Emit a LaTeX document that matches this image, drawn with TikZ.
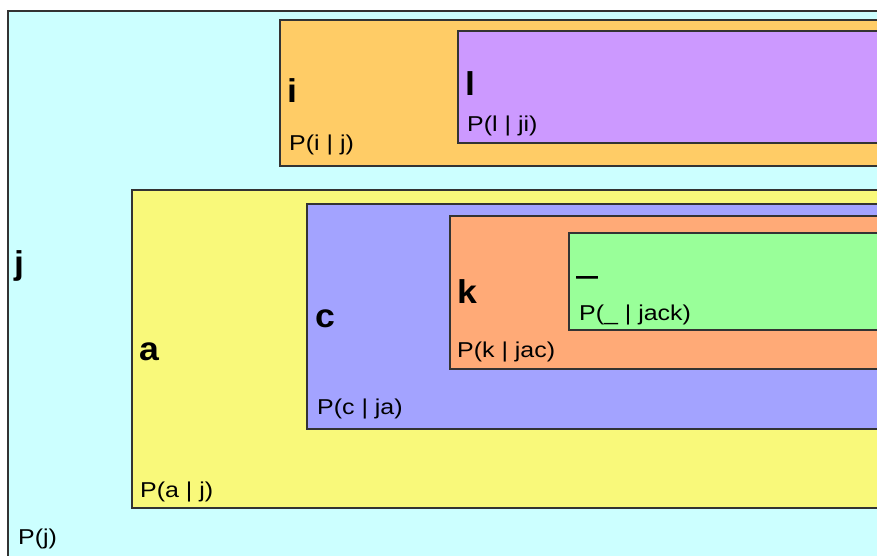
\documentclass[tikz,border=0pt]{standalone}
\usepackage{fontspec}
\setmainfont{Liberation Sans}
\newfontfamily\labelfont[FakeStretch=1.16]{Liberation Sans}
\newfontfamily\headfont[FakeStretch=1.08]{Liberation Sans Bold}
\newfontfamily\heavyfont[FakeStretch=1.08,FakeBold=4]{Liberation Sans Bold}
\definecolor{cyanbg}{HTML}{CCFFFF}
\definecolor{orangebg}{HTML}{FFCC66}
\definecolor{purplebg}{HTML}{CC99FF}
\definecolor{yellowbg}{HTML}{F9F97A}
\definecolor{bluebg}{HTML}{A3A3FF}
\definecolor{salmonbg}{HTML}{FFAA77}
\definecolor{greenbg}{HTML}{99FF99}
\definecolor{edge}{HTML}{333333}
\tikzset{
  box/.style={draw=edge, line width=1.4pt},
  head/.style={anchor=base west, inner sep=0pt, font=\headfont\fontsize{33}{37}\selectfont},
  prob/.style={anchor=base west, inner sep=0pt, font=\labelfont\fontsize{21.5}{25}\selectfont},
}
\begin{document}
\begin{tikzpicture}[x=1pt, y=-1pt]
  \useasboundingbox (0,0) rectangle (877,556);
  \clip (0,0) rectangle (877,556);
  % nested regions, each one open to the right
  \filldraw[box, fill=cyanbg]   (8,11)   rectangle (890,570);
  \filldraw[box, fill=orangebg] (280,20) rectangle (890,166);
  \filldraw[box, fill=purplebg] (458,31) rectangle (890,143);
  \filldraw[box, fill=yellowbg] (132,190) rectangle (890,508);
  \filldraw[box, fill=bluebg]   (307,204) rectangle (890,429);
  \filldraw[box, fill=salmonbg] (450,216) rectangle (890,369);
  \filldraw[box, fill=greenbg]  (569,233) rectangle (890,330);
  % letters and their probabilities
  \node[head] (hj) at (14,274) {j};
  \node[prob] (pj) at (18,544) {P(j)};
  \node[head] (hi) at (287,103) {i};
  \node[prob] (pi) at (289,151) {P(i | j)};
  \node[head] (hl) at (465,96) {l};
  \node[prob] (pl) at (467,132) {P(l | ji)};
  \node[head] (ha) at (139,360) {a};
  \node[prob] (pa) at (140,497) {P(a | j)};
  \node[head] (hc) at (315,327) {c};
  \node[prob] (pc) at (317,414) {P(c | ja)};
  \node[head] (hk) at (457,303) {k};
  \node[prob] (pk) at (457,357) {P(k | jac)};
  \node[head, font=\heavyfont\fontsize{33}{37}\selectfont] (hs) at (577,274) {\symbol{95}};
  \node[prob] (ps) at (579,320) {P(\symbol{95} | jack)};
\end{tikzpicture}
\end{document}
